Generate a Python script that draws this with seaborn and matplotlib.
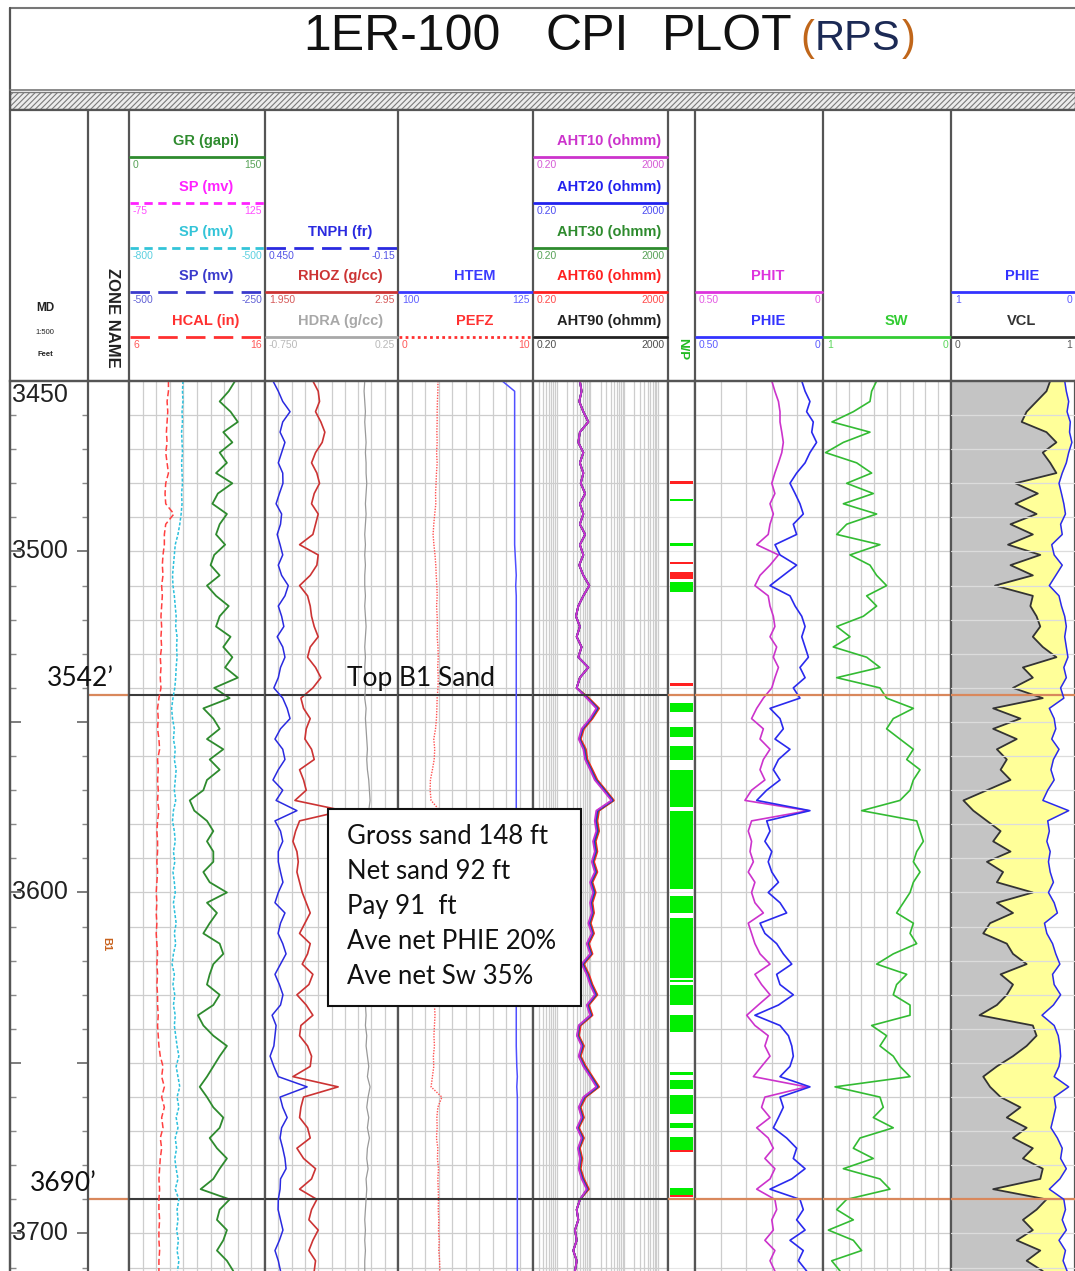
import numpy as np
import matplotlib
matplotlib.use("Agg")
import matplotlib.pyplot as plt
from matplotlib.patches import Rectangle
from matplotlib.ticker import LogLocator, NullLocator, MultipleLocator
from matplotlib.transforms import blended_transform_factory
import seaborn as sns

# ---------------- log data (3 ft sampling, 3450 - 3711 ft MD) ----------------
depth = np.arange(3450, 3712, 3)

gr = [117, 110, 100, 112, 120, 104, 114, 100, 108, 96,
      114, 98, 92, 108, 100, 96, 106, 94, 90, 100,
      86, 96, 110, 100, 96, 112, 104, 114, 106, 120,
      94, 111, 82, 93, 100, 86, 104, 89, 100, 86,
      82, 67, 72, 86, 93, 86, 93, 93, 82, 89,
      108, 86, 97, 89, 82, 100, 104, 93, 89, 86,
      100, 93, 76, 82, 93, 108, 100, 93, 86, 78,
      86, 93, 104, 100, 89, 97, 108, 100, 93, 79,
      111, 100, 97, 108, 104, 97, 108, 115]

hcal = [8.9, 8.9, 8.8, 8.85, 8.8, 8.75, 8.8, 8.7, 8.8, 8.9,
        8.7, 8.65, 8.7, 9.3, 8.7, 8.6, 8.6, 8.5, 8.45, 8.5,
        8.4, 8.45, 8.4, 8.35, 8.4, 8.35, 8.4, 8.3, 8.35, 8.3,
        8.35, 8.2, 8.1, 8.15, 8.1, 8.2, 8.25, 8.1, 8.15, 8.1,
        8.15, 8.1, 8.2, 8.1, 8.05, 8.1, 8.1, 8.05, 8.1, 8.05,
        8.0, 8.05, 8.0, 8.05, 8.0, 8.05, 8.1, 8.05, 8.1, 8.05,
        8.1, 8.1, 8.15, 8.1, 8.15, 8.2, 8.3, 8.5, 8.4, 8.6,
        8.4, 8.6, 8.4, 8.5, 8.3, 8.4, 8.3, 8.25, 8.2, 8.25,
        8.2, 8.2, 8.25, 8.2, 8.2, 8.25, 8.2, 8.2]

sp = [-681, -682, -681, -683, -682, -684, -683, -682, -684, -683,
      -682, -684, -683, -685, -688, -692, -698, -700, -702, -704,
      -703, -700, -698, -696, -697, -694, -695, -694, -696, -697,
      -699, -703, -706, -704, -700, -702, -698, -700, -696, -698,
      -700, -697, -702, -704, -700, -698, -702, -699, -703, -700,
      -698, -702, -699, -696, -700, -697, -702, -705, -700, -703,
      -699, -702, -698, -700, -697, -694, -690, -696, -692, -688,
      -694, -690, -696, -692, -698, -695, -699, -696, -692, -698,
      -690, -694, -692, -695, -691, -694, -690, -693]

tnph = [0.414, 0.39, 0.37, 0.337, 0.37, 0.382, 0.36, 0.375, 0.39, 0.37,
        0.369, 0.385, 0.4, 0.375, 0.38, 0.395, 0.382, 0.37, 0.39, 0.375,
        0.345, 0.36, 0.39, 0.375, 0.365, 0.395, 0.37, 0.36, 0.38, 0.39,
        0.41, 0.37, 0.35, 0.337, 0.38, 0.405, 0.37, 0.36, 0.39, 0.414,
        0.37, 0.4, 0.306, 0.405, 0.38, 0.37, 0.39, 0.39, 0.38, 0.369,
        0.39, 0.405, 0.36, 0.38, 0.391, 0.37, 0.355, 0.38, 0.405, 0.385,
        0.369, 0.38, 0.418, 0.4, 0.405, 0.41, 0.427, 0.41, 0.39, 0.26,
        0.382, 0.37, 0.35, 0.375, 0.382, 0.37, 0.36, 0.355, 0.38, 0.382,
        0.39, 0.391, 0.38, 0.369, 0.385, 0.405, 0.39, 0.38]

rhoz = [2.31, 2.35, 2.36, 2.33, 2.37, 2.40, 2.38, 2.33, 2.30, 2.34,
        2.36, 2.32, 2.30, 2.35, 2.33, 2.31, 2.21, 2.35, 2.34, 2.29,
        2.21, 2.27, 2.29, 2.30, 2.32, 2.35, 2.29, 2.27, 2.33, 2.37,
        2.31, 2.22, 2.24, 2.29, 2.26, 2.25, 2.30, 2.32, 2.21, 2.24,
        2.26, 2.175, 2.54, 2.21, 2.18, 2.16, 2.19, 2.20, 2.19, 2.21,
        2.23, 2.26, 2.29, 2.25, 2.21, 2.29, 2.27, 2.23, 2.31, 2.28,
        2.19, 2.26, 2.31, 2.22, 2.21, 2.27, 2.30, 2.29, 2.16, 2.50,
        2.24, 2.22, 2.21, 2.27, 2.29, 2.19, 2.24, 2.33, 2.30, 2.21,
        2.34, 2.30, 2.28, 2.35, 2.31, 2.28, 2.33, 2.32]

hdra = [0.0, -0.005, 0.0, 0.005, 0.0, 0.005, 0.01, 0.005, 0.01, 0.01,
        0.015, 0.01, 0.005, 0.01, 0.005, 0.0, 0.005, 0.0, 0.005, 0.0,
        0.0, 0.005, 0.0, 0.005, 0.01, 0.005, 0.0, 0.005, 0.0, 0.005,
        0.005, 0.0, 0.01, 0.005, 0.01, 0.015, 0.02, 0.015, 0.02, 0.03,
        0.035, 0.04, 0.03, 0.01, 0.005, 0.0, 0.005, 0.0, 0.005, 0.0,
        0.0, 0.005, 0.0, -0.005, 0.0, 0.005, 0.0, 0.005, 0.0, 0.005,
        0.0, 0.005, 0.01, 0.005, 0.015, 0.01, 0.02, 0.03, 0.02, 0.04,
        0.025, 0.015, 0.03, 0.02, 0.035, 0.02, 0.015, 0.025, 0.01, 0.015,
        0.01, 0.005, 0.0, 0.005, 0.0, 0.005, 0.0, 0.0]

pefz = [2.96, 2.95, 2.92, 2.9, 2.9, 2.88, 2.9, 2.86, 2.9, 2.85,
        2.82, 2.78, 2.8, 2.72, 2.65, 2.6, 2.66, 2.74, 2.8, 2.83,
        2.88, 2.9, 2.86, 2.9, 2.92, 2.9, 2.96, 2.98, 2.94, 2.98,
        2.96, 2.9, 2.88, 2.85, 2.78, 2.65, 2.72, 2.68, 2.55, 2.4,
        2.38, 2.45, 3.1, 2.8, 2.65, 2.7, 2.66, 2.72, 2.7, 2.75,
        2.7, 2.74, 2.68, 2.6, 2.66, 2.58, 2.55, 2.6, 2.52, 2.62,
        2.68, 2.7, 2.74, 2.7, 2.66, 2.7, 2.62, 2.65, 2.55, 2.45,
        3.25, 2.95, 2.88, 2.9, 2.85, 2.95, 2.92, 3.0, 2.95, 2.98,
        3.0, 2.98, 3.02, 3.0, 3.05, 3.02, 3.08, 3.1]

htem = [119.3, 121.6, 121.6, 121.6, 121.6, 121.6, 121.6, 121.6, 121.6, 121.6,
        121.6, 121.6, 121.6, 121.6, 121.6, 121.6, 121.6, 121.7, 121.8, 121.9,
        121.8, 121.9, 121.9, 121.9, 121.9, 121.9, 121.9, 121.9, 121.9, 121.9,
        121.9, 121.9, 121.9, 121.9, 121.9, 121.9, 121.9, 121.9, 121.9, 121.9,
        121.9, 121.9, 121.9, 121.9, 121.9, 121.9, 121.9, 121.9, 121.9, 121.9,
        121.9, 121.9, 121.9, 121.9, 121.9, 121.9, 121.9, 121.9, 121.9, 121.9,
        121.9, 121.9, 121.9, 121.9, 121.9, 121.9, 121.95, 122.0, 122.1, 122.0,
        122.1, 122.1, 122.1, 122.1, 122.1, 122.1, 122.1, 122.1, 122.1, 122.1,
        122.1, 122.1, 122.1, 122.1, 122.1, 122.1, 122.1, 122.1]

# array resistivities: identical in the shales, separated in the B1 sand
res_shale_top = [4.9, 5.5, 4.7, 6.2, 8.7, 4.9, 4.4, 6.2, 4.9, 6.2,
                 5.2, 7.0, 4.9, 6.2, 4.9, 7.0, 4.9, 6.2, 4.7, 6.2,
                 9.3, 6.2, 4.4, 3.75, 4.9, 3.94, 5.5, 4.4, 8.7, 4.9]
res_shale_base = [4.93, 3.94, 4.4, 3.51, 3.94, 3.13, 3.94, 3.51]

aht10_sand = [3.94, 7.8, 15.0, 9.8, 5.5, 4.5, 6.2, 7.0, 9.8, 13.5,
              24.0, 42.0, 15.0, 13.5, 15.0, 12.0, 13.5, 11.0, 13.5, 9.8,
              12.0, 9.8, 11.0, 8.7, 11.0, 7.8, 9.8, 5.5, 7.8, 9.8,
              13.5, 7.8, 9.8, 4.5, 4.0, 5.5, 4.5, 6.2, 9.8, 15.0,
              6.2, 4.5, 5.5, 4.0, 5.5, 4.3, 4.9, 4.5, 5.5, 7.8]
aht20_sand = [3.94, 8.1, 16.0, 10.3, 5.8, 4.7, 6.5, 7.3, 10.3, 14.3,
              25.5, 45.0, 16.0, 14.3, 16.0, 12.8, 14.3, 11.5, 14.3, 10.3,
              12.8, 10.3, 11.5, 9.1, 11.5, 8.1, 10.3, 5.8, 8.1, 10.3,
              14.3, 8.1, 10.3, 4.6, 4.1, 5.8, 4.6, 6.5, 10.3, 16.0,
              6.5, 4.6, 5.8, 4.1, 5.8, 4.4, 5.1, 4.6, 5.8, 8.1]
aht30_sand = [3.94, 8.4, 16.8, 10.7, 6.0, 4.8, 6.8, 7.6, 10.7, 14.9,
              26.5, 46.5, 16.8, 14.9, 16.8, 13.4, 14.9, 11.9, 14.9, 10.7,
              13.4, 10.7, 11.9, 9.5, 11.9, 8.4, 10.7, 6.0, 8.4, 10.7,
              14.9, 8.4, 10.7, 4.8, 4.3, 6.0, 4.8, 6.8, 10.7, 16.8,
              6.8, 4.8, 6.0, 4.3, 6.0, 4.6, 5.3, 4.8, 6.0, 8.4]
aht60_sand = [3.94, 9.1, 18.2, 11.6, 6.5, 5.2, 7.4, 8.2, 11.6, 16.2,
              28.7, 50.0, 18.2, 16.2, 18.2, 14.5, 16.2, 12.9, 16.2, 11.6,
              14.5, 11.6, 12.9, 10.3, 12.9, 9.1, 11.6, 6.5, 9.1, 11.6,
              16.2, 9.1, 11.6, 5.2, 4.6, 6.5, 5.2, 7.4, 11.6, 18.2,
              7.4, 5.2, 6.5, 4.6, 6.5, 4.9, 5.8, 5.2, 6.5, 9.1]
aht90_sand = [3.94, 8.7, 17.3, 11.0, 6.2, 4.93, 7.0, 7.8, 11.0, 15.4,
              27.3, 48.0, 17.3, 15.4, 17.3, 13.8, 15.4, 12.3, 15.4, 11.0,
              13.8, 11.0, 12.3, 9.8, 12.3, 8.7, 11.0, 6.2, 8.7, 11.0,
              15.4, 8.7, 11.0, 4.93, 4.4, 6.2, 4.93, 7.0, 11.0, 17.3,
              7.0, 4.93, 6.2, 4.4, 6.2, 4.7, 5.5, 4.93, 6.2, 8.7]

phit = [0.2, 0.188, 0.174, 0.168, 0.168, 0.161, 0.155, 0.161, 0.174, 0.188,
        0.2, 0.188, 0.207, 0.194, 0.207, 0.214, 0.259, 0.174, 0.207, 0.246,
        0.266, 0.214, 0.207, 0.194, 0.188, 0.207, 0.181, 0.194, 0.174, 0.188,
        0.2, 0.233, 0.259, 0.279, 0.233, 0.246, 0.207, 0.233, 0.246, 0.227,
        0.279, 0.305, 0.057, 0.279, 0.292, 0.279, 0.285, 0.272, 0.292, 0.266,
        0.279, 0.266, 0.233, 0.292, 0.279, 0.266, 0.246, 0.207, 0.266, 0.24,
        0.207, 0.253, 0.298, 0.266, 0.214, 0.227, 0.207, 0.24, 0.272, 0.064,
        0.227, 0.24, 0.207, 0.259, 0.214, 0.194, 0.227, 0.188, 0.207, 0.259,
        0.188, 0.181, 0.2, 0.194, 0.227, 0.188, 0.207, 0.188]

phie = [0.083, 0.07, 0.051, 0.064, 0.038, 0.044, 0.025, 0.051, 0.07, 0.103,
        0.129, 0.109, 0.09, 0.077, 0.116, 0.103, 0.1875, 0.168, 0.103, 0.155,
        0.207, 0.129, 0.109, 0.083, 0.07, 0.083, 0.07, 0.057, 0.09, 0.07,
        0.116, 0.09, 0.207, 0.168, 0.155, 0.1875, 0.129, 0.174, 0.194, 0.168,
        0.22, 0.259, 0.051, 0.22, 0.207, 0.227, 0.2, 0.214, 0.2, 0.174,
        0.214, 0.168, 0.142, 0.246, 0.227, 0.181, 0.155, 0.122, 0.181, 0.168,
        0.116, 0.174, 0.266, 0.168, 0.135, 0.122, 0.116, 0.129, 0.168, 0.051,
        0.168, 0.155, 0.174, 0.194, 0.142, 0.103, 0.116, 0.07, 0.122, 0.207,
        0.09, 0.077, 0.103, 0.07, 0.129, 0.077, 0.096, 0.064]

sw = [0.581, 0.62, 0.633, 0.763, 0.93, 0.633, 0.841, 0.98, 0.737, 0.62,
      0.815, 0.607, 0.841, 0.581, 0.815, 0.893, 0.555, 0.789, 0.633, 0.581,
      0.503, 0.659, 0.581, 0.685, 0.893, 0.789, 0.92, 0.659, 0.555, 0.893,
      0.555, 0.503, 0.294, 0.451, 0.503, 0.399, 0.294, 0.346, 0.242, 0.294,
      0.32, 0.399, 0.698, 0.268, 0.242, 0.216, 0.268, 0.294, 0.242, 0.294,
      0.32, 0.372, 0.425, 0.294, 0.32, 0.268, 0.451, 0.581, 0.346, 0.425,
      0.451, 0.32, 0.32, 0.62, 0.503, 0.555, 0.451, 0.399, 0.32, 0.906,
      0.555, 0.529, 0.607, 0.451, 0.711, 0.763, 0.607, 0.841, 0.555, 0.477,
      0.815, 0.893, 0.763, 0.958, 0.763, 0.698, 0.932, 0.867]

vcl = [0.80, 0.77, 0.69, 0.61, 0.57, 0.77, 0.85, 0.74, 0.80, 0.85,
       0.52, 0.70, 0.52, 0.69, 0.48, 0.66, 0.46, 0.72, 0.48, 0.66,
       0.355, 0.66, 0.64, 0.69, 0.72, 0.66, 0.74, 0.85, 0.58, 0.66,
       0.50, 0.74, 0.34, 0.56, 0.34, 0.53, 0.37, 0.45, 0.40, 0.48,
       0.29, 0.10, 0.18, 0.29, 0.40, 0.34, 0.48, 0.29, 0.42, 0.37,
       0.66, 0.37, 0.50, 0.315, 0.26, 0.45, 0.50, 0.61, 0.40, 0.50,
       0.45, 0.37, 0.23, 0.66, 0.69, 0.61, 0.50, 0.37, 0.26, 0.315,
       0.40, 0.56, 0.45, 0.61, 0.50, 0.66, 0.58, 0.74, 0.72, 0.34,
       0.77, 0.69, 0.58, 0.66, 0.53, 0.72, 0.61, 0.74]

# net / pay flags (ft)
pay_top = [3484.5, 3497.5, 3509.0, 3544.5, 3551.5, 3557.0, 3564.0, 3576.0, 3601.0,
           3607.5, 3625.7, 3627.0, 3636.0, 3652.5, 3655.0, 3659.5, 3667.6, 3671.7, 3686.6]
pay_base = [3485.3, 3498.3, 3512.0, 3547.0, 3554.5, 3561.0, 3575.0, 3599.0, 3606.0,
            3625.0, 3626.3, 3633.0, 3641.0, 3653.5, 3657.6, 3665.0, 3669.0, 3675.5, 3688.7]
net_top = [3479.3, 3503.1, 3506.0, 3538.7, 3675.5, 3688.8]
net_base = [3480.1, 3503.8, 3508.0, 3539.4, 3676.0, 3689.3]

zone_tops = [3542, 3690]
zone_name = "B1"
zone_mid = 3615
depth_labels = [3450, 3500, 3600, 3700]
summary = ["Gross sand 148 ft", "Net sand 92 ft", "Pay 91  ft",
           "Ave net PHIE 20%", "Ave net Sw 35%"]

# ---------------- layout ----------------
W, H = 1075, 1271
TOP, BOT = 3450, 3711
LOG_Y0, LOG_Y1 = 381, 1271
GRID = "#cdcdcd"
EDGE = "#555555"

sns.set_style("white")
plt.rcParams["font.family"] = ["Liberation Sans", "DejaVu Sans"]
plt.rcParams["hatch.linewidth"] = 0.8

fig = plt.figure(figsize=(W / 100, H / 100), dpi=100)


def px_axes(x0, x1, y0, y1):
    return fig.add_axes([x0 / W, 1 - y1 / H, (x1 - x0) / W, (y1 - y0) / H])


def make_track(x0, x1, lo, hi, ndiv=10, log=False, vgrid=True):
    ax = px_axes(x0, x1, LOG_Y0, LOG_Y1)
    if log:
        ax.set_xscale("log")
        ax.xaxis.set_major_locator(LogLocator(base=10, subs=np.arange(1, 10), numticks=100))
        ax.xaxis.set_minor_locator(NullLocator())
    elif vgrid:
        ax.set_xticks(np.linspace(lo, hi, ndiv + 1))
    else:
        ax.set_xticks([])
    ax.set_xlim(lo, hi)
    ax.set_ylim(BOT, TOP)
    ax.set_yticks(np.arange(3460, 3711, 10))
    ax.grid(True, color=GRID, lw=0.9)
    ax.set_axisbelow(True)
    ax.tick_params(which="both", length=0, labelbottom=False, labelleft=False)
    for s in ax.spines.values():
        s.set_color(EDGE)
        s.set_linewidth(1.6)
    ax.spines["bottom"].set_visible(False)
    ax.set_xlabel("")
    ax.set_ylabel("")
    return ax


def twin(ax, lo, hi, log=False):
    t = ax.twiny()
    if log:
        t.set_xscale("log")
    t.set_xlim(lo, hi)
    t.set_ylim(BOT, TOP)
    t.axis("off")
    return t


def curve(ax, x, color, lw=1.2, ls="-", lo=None, hi=None):
    sns.lineplot(x=x, y=depth, orient="y", sort=False, estimator=None,
                 ax=ax, color=color, linewidth=lw, linestyle=ls)
    if lo is not None:
        ax.set_xlim(lo, hi)
    ax.set_ylim(BOT, TOP)
    ax.set_xlabel("")
    ax.set_ylabel("")


# MD column
md = px_axes(10, 88, LOG_Y0, LOG_Y1)
md.set_xlim(0, 1)
md.set_ylim(BOT, TOP)
md.set_xticks([])
md.yaxis.set_major_locator(MultipleLocator(50))
md.yaxis.set_minor_locator(MultipleLocator(10))
md.tick_params(axis="y", which="major", direction="in", length=8, width=1.2,
               color="#666666", left=True, right=True, labelleft=False)
md.tick_params(axis="y", which="minor", direction="in", length=4, width=1,
               color="#888888", left=True, right=True)
for s in md.spines.values():
    s.set_color(EDGE)
    s.set_linewidth(1.6)
md.spines["bottom"].set_visible(False)
md.spines["right"].set_visible(False)
for d in depth_labels:
    md.text(0.03, d + (4 if d == TOP else 0), str(d), transform=md.get_yaxis_transform(),
            ha="left", va="center", fontsize=18, color="#222222")

# zone column
zn = px_axes(88, 129, LOG_Y0, LOG_Y1)
zn.set_xlim(0, 1)
zn.set_ylim(BOT, TOP)
zn.set_xticks([])
zn.set_yticks([])
for s in zn.spines.values():
    s.set_color(EDGE)
    s.set_linewidth(1.6)
zn.spines["bottom"].set_visible(False)
for z in zone_tops:
    zn.axhline(z, color="#d9885c", lw=1.6)
zn.text(0.45, zone_mid, zone_name, rotation=270, ha="center", va="center",
        color="#c8621e", fontsize=8, fontweight="bold")

# track 1: GR / SP / HCAL
t1 = make_track(129, 265, 0, 150)
curve(twin(t1, 6, 16), hcal, "#ff4040", lw=1.1, ls=(0, (4, 2)), lo=6, hi=16)
curve(twin(t1, -800, -500), sp, "#2cc0dc", lw=1.1, ls=(0, (2, 1.2)), lo=-800, hi=-500)
curve(t1, gr, "#2e8b2e", lw=1.3, lo=0, hi=150)

# track 2: RHOZ / TNPH / HDRA
t2 = make_track(265, 398, 1.95, 2.95)
curve(twin(t2, -0.75, 0.25), hdra, "#9a9a9a", lw=0.9, lo=-0.75, hi=0.25)
curve(twin(t2, 0.45, -0.15), tnph, "#2a2ae0", lw=1.1, lo=0.45, hi=-0.15)
curve(t2, rhoz, "#cc3333", lw=1.2, lo=1.95, hi=2.95)

# track 3: PEFZ / HTEM
t3 = make_track(398, 533, 0, 10)
curve(t3, pefz, "#ff5050", lw=1.0, ls=(0, (1, 1)), lo=0, hi=10)
curve(twin(t3, 100, 125), htem, "#5050ff", lw=1.1, lo=100, hi=125)

# track 4: array resistivities
t4 = make_track(533, 668, 0.2, 2000, log=True)
res_curves = [
    (res_shale_top + aht90_sand + res_shale_base, "#222222"),
    (res_shale_top + aht60_sand + res_shale_base, "#ff2020"),
    (res_shale_top + aht30_sand + res_shale_base, "#2e8b2e"),
    (res_shale_top + aht20_sand + res_shale_base, "#2222ee"),
    (res_shale_top + aht10_sand + res_shale_base, "#cc33cc"),
]
for vals, col in res_curves:
    curve(t4, vals, col, lw=1.3, lo=0.2, hi=2000)

# N/P flags
npt = make_track(668, 695, 0, 1, vgrid=False)
npt.grid(True, axis="y", color="#e6e6e6", lw=0.8)
for a, b in zip(pay_top, pay_base):
    npt.axhspan(a, b, xmin=0.08, xmax=0.92, color="#00ee00", lw=0)
for a, b in zip(net_top, net_base):
    npt.axhspan(a, b, xmin=0.08, xmax=0.92, color="#ff2020", lw=0)

# PHIT / PHIE
t5 = make_track(695, 823, 0.5, 0, ndiv=5)
curve(t5, phit, "#cc33cc", lw=1.2, lo=0.5, hi=0)
curve(t5, phie, "#2a2aee", lw=1.2, lo=0.5, hi=0)

# SW
t6 = make_track(823, 951, 1, 0)
curve(t6, sw, "#33bb33", lw=1.2, lo=1, hi=0)

# VCL / PHIE volumetrics
t7 = make_track(951, 1075, 0, 1, vgrid=False)
t7.grid(True, axis="y", color="#dcdcdc", lw=0.9)
t7.set_axisbelow(False)
sand_edge = 1 - np.array(phie)
t7.fill_betweenx(depth, 0, vcl, color="#c4c4c4", lw=0, zorder=0.5)
t7.fill_betweenx(depth, vcl, sand_edge, where=sand_edge > np.array(vcl),
                 interpolate=True, color="#ffff99", lw=0, zorder=0.5)
curve(t7, vcl, "#333333", lw=1.3, lo=0, hi=1)
curve(twin(t7, 1, 0), phie, "#2a2aee", lw=1.1, lo=1, hi=0)

# zone top lines across the tracks
for ax in (t1, t2, t3, t4):
    for z in zone_tops:
        ax.axhline(z, color="#3a3a3a", lw=1.5, zorder=5)
for ax in (npt, t5, t6, t7):
    for z in zone_tops:
        ax.axhline(z, color="#d9885c", lw=1.6, zorder=5)

# ---------------- overlay: title, header and annotations ----------------
ov = fig.add_axes([0, 0, 1, 1], zorder=20)
ov.set_xlim(0, W)
ov.set_ylim(H, 0)
ov.axis("off")
ov.patch.set_alpha(0)

ov.plot([10, W], [8, 8], color="#777777", lw=1.5)
ov.plot([10, 10], [8, H], color=EDGE, lw=1.6)
ov.plot([10, W], [90, 90], color="#777777", lw=1.2)
ov.add_patch(Rectangle((10, 92), W - 10, 17, facecolor="#ececec",
                       edgecolor="#7a7a7a", hatch="//////", lw=1))
ov.plot([10, W], [110, 110], color=EDGE, lw=1.6)
ov.plot([10, W], [LOG_Y0, LOG_Y0], color=EDGE, lw=1.6)
for x in [88, 129, 265, 398, 533, 668, 695, 823, 951]:
    ov.plot([x, x], [110, LOG_Y0], color=EDGE, lw=1.6)

# title words, the "(RPS)" part laid out piece by piece
for txt, x in [("1ER-100", 303), ("CPI", 546), ("PLOT", 662)]:
    ov.text(x, 50, txt, ha="left", va="baseline", fontsize=36, color="#111111")
renderer = fig.canvas.get_renderer()
xcur = 800
for txt, col in [("(", "#c0661a"), ("RPS", "#1c2a55"), (")", "#c0661a")]:
    t = ov.text(xcur, 50, txt, ha="left", va="baseline", fontsize=30, color=col)
    xcur = t.get_window_extent(renderer=renderer).x1 + 1

ROW_Y = [141, 187, 232, 276, 321]


def hdr(x0, x1, row, label, color, ls, lo, hi):
    yl = ROW_Y[row]
    ov.text((x0 + x1) / 2 + 9, yl, label, color=color, ha="center", va="center",
            fontsize=10.5, fontweight="bold")
    ov.plot([x0 + 1, x1 - 1], [yl + 16, yl + 16], color=color, ls=ls, lw=2)
    ov.text(x0 + 4, yl + 24, lo, color=color, alpha=0.8, ha="left", va="center", fontsize=7.5)
    ov.text(x1 - 3, yl + 24, hi, color=color, alpha=0.8, ha="right", va="center", fontsize=7.5)


DASH = (0, (3, 2))
LONG = (0, (7, 3))
DOT = (0, (1, 1.2))
hdr(129, 265, 0, "GR (gapi)", "#2e8b2e", "-", "0", "150")
hdr(129, 265, 1, "SP (mv)", "#ff22ff", DASH, "-75", "125")
hdr(129, 265, 2, "SP (mv)", "#33c4d8", DASH, "-800", "-500")
hdr(129, 265, 3, "SP (mv)", "#3a3acc", LONG, "-500", "-250")
hdr(129, 265, 4, "HCAL (in)", "#ff3030", LONG, "6", "16")
hdr(265, 398, 2, "TNPH (fr)", "#2a2ae0", LONG, "0.450", "-0.15")
hdr(265, 398, 3, "RHOZ (g/cc)", "#cc3333", "-", "1.950", "2.95")
hdr(265, 398, 4, "HDRA (g/cc)", "#a8a8a8", "-", "-0.750", "0.25")
hdr(398, 533, 3, "HTEM", "#3a3aff", "-", "100", "125")
hdr(398, 533, 4, "PEFZ", "#ff3030", DOT, "0", "10")
hdr(533, 668, 0, "AHT10 (ohmm)", "#cc33cc", "-", "0.20", "2000")
hdr(533, 668, 1, "AHT20 (ohmm)", "#2222ee", "-", "0.20", "2000")
hdr(533, 668, 2, "AHT30 (ohmm)", "#2e8b2e", "-", "0.20", "2000")
hdr(533, 668, 3, "AHT60 (ohmm)", "#ff2020", "-", "0.20", "2000")
hdr(533, 668, 4, "AHT90 (ohmm)", "#222222", "-", "0.20", "2000")
hdr(695, 823, 3, "PHIT", "#dd33dd", "-", "0.50", "0")
hdr(695, 823, 4, "PHIE", "#3333ff", "-", "0.50", "0")
hdr(823, 951, 4, "SW", "#33cc33", "-", "1", "0")
hdr(951, 1075, 3, "PHIE", "#3333ff", "-", "1", "0")
hdr(951, 1075, 4, "VCL", "#333333", "-", "0", "1")

ov.text(45, 308, "MD", ha="center", va="center", fontsize=8.5, fontweight="bold", color="#222222")
ov.text(45, 332, "1:500", ha="center", va="center", fontsize=5.5, color="#222222")
ov.text(45, 354, "Feet", ha="center", va="center", fontsize=5.5, fontweight="bold", color="#222222")
ov.text(112, 318, "ZONE NAME", rotation=270, ha="center", va="center",
        fontsize=12, fontweight="bold", color="#222222")
ov.text(682, 349, "N/P", rotation=270, ha="center", va="center",
        fontsize=9.5, fontweight="bold", color="#22bb22")

# zone-top annotations (x in pixels, y in depth)
bt = blended_transform_factory(ov.transData, md.transData)
ann = ["Lato", "DejaVu Sans"]
ov.text(47, zone_tops[0] - 1, f"{zone_tops[0]}\u2019", transform=bt, ha="left",
        va="bottom", fontsize=19, family=ann, color="#111111")
ov.text(30, zone_tops[1] - 1, f"{zone_tops[1]}\u2019", transform=bt, ha="left",
        va="bottom", fontsize=19, family=ann, color="#111111")
ov.text(347, zone_tops[0] - 1, "Top B1 Sand", transform=bt, ha="left",
        va="bottom", fontsize=19, family=ann, color="#111111")

# summary box
ov.add_patch(Rectangle((328, 809), 253, 197, facecolor="white", edgecolor="#111111", lw=1.5))
for i, line in enumerate(summary):
    ov.text(347, 837 + i * 34.8, line, ha="left", va="center", fontsize=18.5,
            family=ann, color="#111111")

fig.savefig("out.png", dpi=100)
